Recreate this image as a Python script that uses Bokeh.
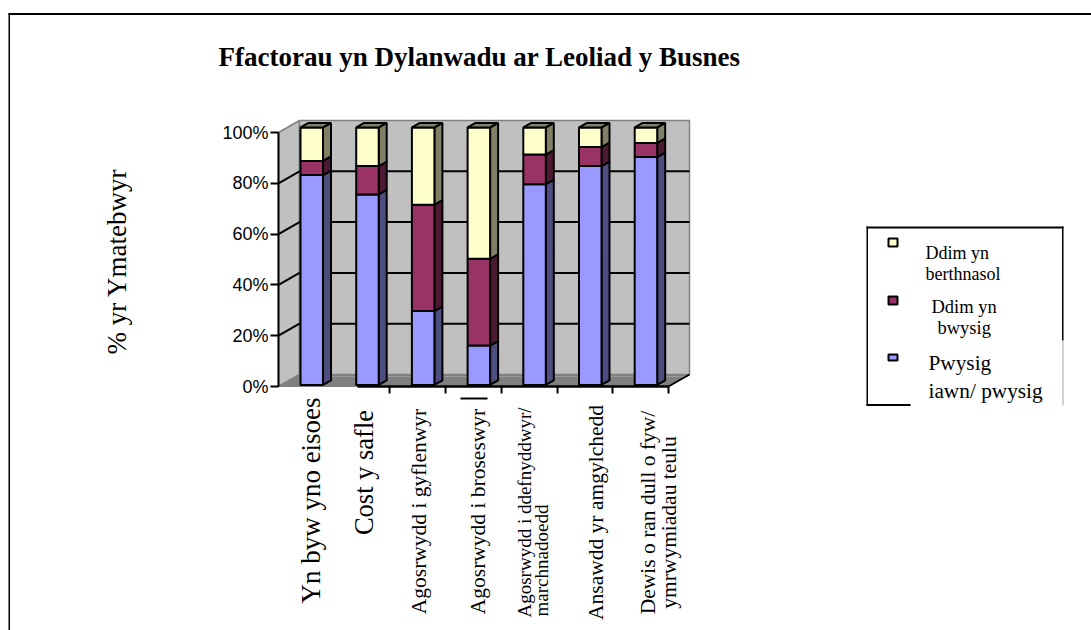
from bokeh.plotting import figure
from bokeh.models import (BoxAnnotation, FixedTicker, Label, LinearAxis, PrintfTickFormatter,
                          Range1d)
from bokeh.embed import file_html
from bokeh.resources import INLINE

# ---- data (percent of respondents) ----
series_names = ["Pwysig iawn/ pwysig", "Ddim yn bwysig", "Ddim yn berthnasol"]
very_important = [81.5, 74, 28.7, 15.3, 78, 85, 88.5]
not_important = [5.5, 11, 41.3, 33.7, 11.5, 7.4, 5.5]
not_relevant = [13, 15, 30, 51, 10.5, 7.6, 6]
front_colors = ["#9999FF", "#993366", "#FFFFCC"]
side_colors = ["#4D4D80", "#4D1A33", "#808066"]
y_ticks = [0, 20, 40, 60, 80, 100]
x_ticks = [2, 3, 4, 5, 6, 7]

title_text = "Ffactorau yn Dylanwadu ar Leoliad y Busnes"
y_title = "% yr Ymatebwyr"
# (text, font px, centre x px, centre y px)
cat_labels = [
    ("Yn byw yno eisoes", 27, 310, 500),
    ("Cost y safle", 26.5, 363, 472),
    ("Agosrwydd i gyflenwyr", 21.5, 418, 511),
    ("Agosrwydd i broseswyr", 21.5, 477, 511),
    ("Agosrwydd i ddefnyddwyr/", 19, 524, 512),
    ("marchnadoedd", 19, 541, 560),
    ("Ansawdd yr amgylchedd", 21.5, 595, 512),
    ("Dewis o ran dull o fyw/", 21.5, 647, 512),
    ("ymrwymiadau teulu", 21.5, 668, 522),
]
# (text, font px, left x px, centre y px)
legend_labels = [
    ("Ddim yn", 18, 925, 252),
    ("berthnasol", 18, 925, 273),
    ("Ddim yn", 18.5, 931, 306),
    ("bwysig", 18.5, 937, 327),
    ("Pwysig", 21.3, 928, 362),
    ("iawn/ pwysig", 21.3, 928, 390),
]
legend_swatches = [(238, 246, 2), (296, 304, 1), (354, 360, 0)]

# ---- layout ----
W, H = 1091, 630
F_L, F_B = 278, 386   # axis origin in window pixels
PX_CAT, PX_PCT = 55.7, 2.54

def X(px):
    return (px - F_L) / PX_CAT

def Y(py):
    return (F_B - py) / PX_PCT

p = figure(width=W, height=H, output_backend="svg", toolbar_location=None,
           x_range=Range1d(X(0), X(W)), y_range=Range1d(Y(H), Y(0)),
           x_axis_type=None, y_axis_type=None,
           min_border_left=0, min_border_right=0, min_border_top=0, min_border_bottom=0,
           outline_line_color=None, background_fill_color=None)
p.grid.visible = False

# 3-D offsets
WALL_DX, WALL_DY = X(299), 12 / PX_PCT
BAR_DX, BAR_DY = 8 / PX_CAT, 4.5 / PX_PCT
BAR_W = 22.5 / PX_CAT
BAR_BASE, BAR_SCALE = 0.6, 257.5 / 254
BACK_R = X(689)

# walls and floor
p.patch([0, WALL_DX, WALL_DX, 0], [100, 100 + WALL_DY, WALL_DY, 0],
        fill_color="#C0C0C0", line_color="#808080", line_width=1.5)
p.patch([WALL_DX, BACK_R, BACK_R, WALL_DX], [WALL_DY, WALL_DY, 100 + WALL_DY, 100 + WALL_DY],
        fill_color="#C0C0C0", line_color="#808080", line_width=1.5)
p.patch([0, WALL_DX, BACK_R, BACK_R - WALL_DX], [0, WALL_DY, WALL_DY, 0],
        fill_color="#808080", line_color="#808080", line_width=1)
p.segment(WALL_DX, WALL_DY - 2 / PX_PCT, BACK_R - 2 / PX_CAT, WALL_DY - 2 / PX_PCT,
          line_color="#9A9A9A", line_width=1)

# gridlines on walls
grid = [v for v in y_ticks if 0 < v < 100]
p.segment(WALL_DX, [v + WALL_DY for v in grid], BACK_R, [v + WALL_DY for v in grid],
          line_color="#000000", line_width=2)
p.segment(0, grid, WALL_DX, [v + WALL_DY for v in grid], line_color="#000000", line_width=2)
p.segment(x_ticks[-1], 0, BACK_R, WALL_DY, line_color="#000000", line_width=2)

# stacked bars
rows = [very_important, not_important, not_relevant]
for i in range(len(very_important)):
    left = i + 0.395
    right = left + BAR_W
    base = 0.0
    for s, row in enumerate(rows):
        lo = BAR_BASE + base * BAR_SCALE
        hi = BAR_BASE + (base + row[i]) * BAR_SCALE
        p.patch([right, right + BAR_DX, right + BAR_DX, right],
                [lo, lo + BAR_DY, hi + BAR_DY, hi],
                fill_color=side_colors[s], line_color="#000000", line_width=2)
        p.quad(left=[left], right=[right], bottom=[lo], top=[hi],
               fill_color=front_colors[s], line_color="#000000", line_width=2)
        base += row[i]
    top = BAR_BASE + base * BAR_SCALE
    p.patch([left, left + BAR_DX, right + BAR_DX, right],
            [top, top + BAR_DY, top + BAR_DY, top],
            fill_color="#808066", line_color="#000000", line_width=2)

# axes
yax = LinearAxis(ticker=FixedTicker(ticks=y_ticks), formatter=PrintfTickFormatter(format="%d%%"),
                 fixed_location=0, bounds=(0, 100), axis_line_color="#000000", axis_line_width=2,
                 major_tick_line_color="#000000", major_tick_line_width=2,
                 major_tick_in=0, major_tick_out=8, minor_tick_line_color=None,
                 major_label_standoff=2, major_label_text_font="Liberation Sans",
                 major_label_text_font_size="18px", major_label_text_color="#000000")
p.add_layout(yax, "left")
xax = LinearAxis(ticker=FixedTicker(ticks=x_ticks), fixed_location=0, bounds=(X(357), x_ticks[-1]),
                 axis_line_color="#000000", axis_line_width=2.5,
                 major_tick_line_color="#000000", major_tick_line_width=2,
                 major_tick_in=0, major_tick_out=7, minor_tick_line_color=None,
                 major_label_text_color=None, major_label_text_font_size="1px")
p.add_layout(xax, "below")

def rule(x0, x1, y0, y1, color="#000000"):
    p.add_layout(BoxAnnotation(left=X(x0), right=X(x1), top=Y(y0), bottom=Y(y1),
                               fill_color=color, fill_alpha=1, line_color=None, level="overlay"))

def text(s, px, x, y, rot=0, font="Liberation Serif", align="center", style="normal"):
    p.add_layout(Label(x=X(x), y=Y(y), level="overlay",
                       text=s, text_font=font, text_font_size=f"{px}px",
                       text_color="#000000", angle=rot, angle_units="deg",
                       text_align=align, text_baseline="middle", text_font_style=style))

# page frame
rule(8, 1091, 12.5, 14.5)
rule(8, 9.5, 12.5, 630)
rule(460, 487, 397, 399)

# title, y axis title and category labels
text(title_text, 27, 218, 56, align="left", style="bold")
text(y_title, 27, 116, 261, rot=90)
for s, px, x, y in cat_labels:
    text(s, px, x, y, rot=90)

# legend box
rule(866, 1063, 226, 228)
rule(866, 867.5, 226, 405)
rule(1061.5, 1063, 226, 340)
rule(1062, 1063, 340, 405, "#A8A8A8")
rule(866, 910, 403.5, 405.5)
for y0, y1, s in legend_swatches:
    p.add_layout(BoxAnnotation(left=X(888), right=X(897), top=Y(y0), bottom=Y(y1),
                               fill_color=front_colors[s], fill_alpha=1,
                               line_color="#000000", line_width=2, line_alpha=1, level="overlay"))
for s, px, x, y in legend_labels:
    text(s, px, x, y, align="left")

open("out.html", "w").write(file_html(p, INLINE))
